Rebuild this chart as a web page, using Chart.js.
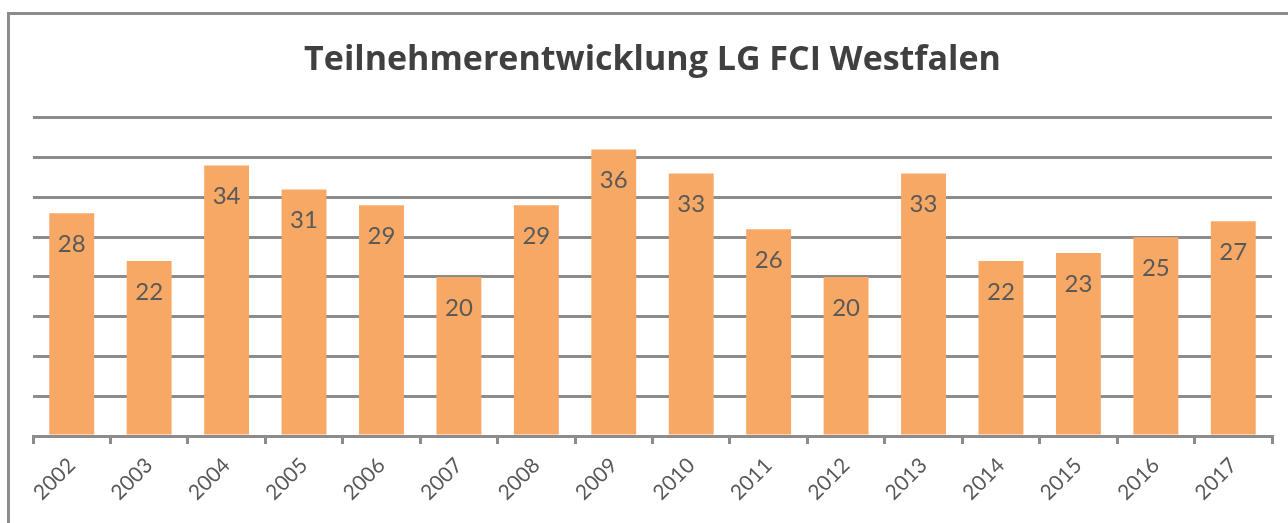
<!DOCTYPE html>
<html>
<head>
<meta charset="utf-8">
<script src="https://cdn.jsdelivr.net/npm/chart.js@4.4.0/dist/chart.umd.min.js"></script>
<style>
    body { margin: 0; background: #fff; }
    .frame {
        position: absolute;
        left: 7px;
        top: 12px;
        width: 1278px;
        height: 508px;
        border-left: 3px solid #8c8c8c;
        border-top: 3px solid #8c8c8c;
    }
    .frame canvas { position: absolute; left: 0; top: 0; }
</style>
</head>
<body>
<div class="frame">
    <canvas id="chart" width="1278" height="508"></canvas>
</div>
<script>
const chartTitle = 'Teilnehmerentwicklung LG FCI Westfalen';
const years = ['2002', '2003', '2004', '2005', '2006', '2007', '2008', '2009',
    '2010', '2011', '2012', '2013', '2014', '2015', '2016', '2017'];
const participants = [28, 22, 34, 31, 29, 20, 29, 36, 33, 26, 20, 33, 22, 23, 25, 27];

const gridGray = '#8c8c8c';
const textGray = '#595959';

// values written inside the top of each bar
const barLabels = {
    id: 'barLabels',
    afterDatasetsDraw(chart) {
        const ctx = chart.ctx;
        const meta = chart.getDatasetMeta(0);
        ctx.save();
        ctx.font = '24px Lato';
        ctx.fillStyle = textGray;
        ctx.textAlign = 'center';
        ctx.textBaseline = 'middle';
        meta.data.forEach((bar, i) => {
            ctx.fillText(String(participants[i]), bar.x, bar.y + 31);
        });
        ctx.restore();
    }
};

new Chart(document.getElementById('chart'), {
    type: 'bar',
    data: {
        labels: years,
        datasets: [{
            data: participants,
            backgroundColor: '#f8a865',
            borderWidth: 0,
            categoryPercentage: 1,
            barPercentage: 0.58
        }]
    },
    options: {
        responsive: false,
        animation: false,
        layout: {
            padding: { left: 23, right: 16, top: 0, bottom: 0 }
        },
        plugins: {
            legend: { display: false },
            tooltip: { enabled: false },
            title: {
                display: true,
                text: chartTitle,
                color: '#404040',
                font: { family: 'Open Sans', size: 34, weight: 'bold', lineHeight: 1.2 },
                padding: { top: 25, bottom: 37 }
            }
        },
        scales: {
            y: {
                min: 0,
                max: 40,
                ticks: { display: false, stepSize: 5 },
                grid: { color: gridGray, lineWidth: 3, drawTicks: false },
                border: { display: false },
                afterFit(scale) { scale.width = 0; }
            },
            x: {
                grid: {
                    offset: true,
                    drawOnChartArea: false,
                    drawTicks: true,
                    tickLength: 8,
                    color: gridGray,
                    lineWidth: 3
                },
                border: { display: true, color: gridGray, width: 3 },
                ticks: {
                    color: textGray,
                    font: { family: 'Lato', size: 21 },
                    minRotation: 45,
                    maxRotation: 45,
                    padding: 9
                },
                afterFit(scale) { scale.height = 87; }
            }
        }
    },
    plugins: [barLabels]
});
</script>
</body>
</html>
